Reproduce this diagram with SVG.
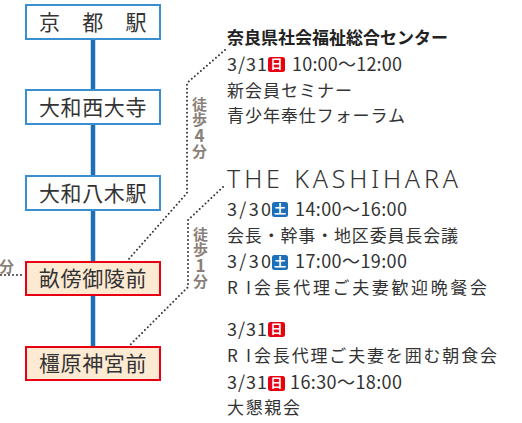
<svg xmlns="http://www.w3.org/2000/svg" width="522" height="423" viewBox="0 0 522 423">
<style>
.bg{fill:#fff}
.line{stroke:#1e6fb5;stroke-width:4.5;fill:none}
.bbox{fill:#fff;stroke:#3a8fd0;stroke-width:2}
.rbox{fill:#fdead3;stroke:#e60012;stroke-width:2}
.st{font-family:"Noto Sans CJK JP","Noto Sans",sans-serif;font-size:21px;fill:#333;text-anchor:middle;letter-spacing:0.6px}
.dot{fill:none;stroke:#333;stroke-width:2;stroke-linecap:round;stroke-dasharray:0 4}
.walk{font-family:"Noto Sans CJK JP","Noto Sans",sans-serif;font-size:15px;font-weight:bold;fill:#8b7f79}
.v{writing-mode:vertical-rl;text-orientation:upright;letter-spacing:0px}
.num{font-size:17px}
.t{font-family:"Noto Sans CJK JP","Noto Sans",sans-serif;font-size:17px;fill:#333}
.d{font-size:18px}
.tb{font-weight:bold;fill:#222}
.en{font-family:"Noto Sans","Liberation Sans",sans-serif;font-size:25px;font-weight:300;fill:#333}
.sun{fill:#e60012}
.sat{fill:#1d6fb8}
.bt{font-family:"Noto Sans CJK JP","Noto Sans",sans-serif;font-size:12px;font-weight:bold;fill:#fff;text-anchor:middle}
</style>
<rect class="bg" x="0" y="0" width="522" height="423"/>
<g id="connectors">
<line class="line" x1="93" y1="39" x2="93" y2="346"/>
<polyline class="dot" points="225,50 187,83 187,193 128,260"/>
<polyline class="dot" points="223,187 188,220 188,287 130,345"/>
<line class="dot" x1="1" y1="275" x2="24" y2="275"/>
</g>
<g id="kyoto">
<rect class="bbox" x="26" y="5" width="134" height="34"/>
<text class="st" x="93" y="30">京　都　駅</text>
</g>
<g id="saidaiji">
<rect class="bbox" x="26" y="90" width="134" height="34"/>
<text class="st" x="93" y="115">大和西大寺</text>
</g>
<g id="yagi">
<rect class="bbox" x="26" y="176" width="134" height="34"/>
<text class="st" x="93" y="201">大和八木駅</text>
</g>
<g id="unebi">
<rect class="rbox" x="26" y="262" width="134" height="33"/>
<text class="st" x="93" y="286">畝傍御陵前</text>
</g>
<g id="kashihara">
<rect class="rbox" x="26" y="347" width="134" height="33"/>
<text class="st" x="93" y="371">橿原神宮前</text>
</g>
<g id="walk4">
<text class="walk v" x="199.5" y="97">徒歩<tspan class="num">4</tspan>分</text>
</g>
<g id="walk1">
<text class="walk v" x="200.5" y="227">徒歩<tspan class="num">1</tspan>分</text>
</g>
<g id="walk-left">
<text class="walk" x="-1" y="272">分</text>
</g>
<g id="center">
<text class="t tb" x="227" y="44" textLength="221" lengthAdjust="spacing">奈良県社会福祉総合センター</text>
<text class="t d" x="227" y="71" textLength="40" lengthAdjust="spacing">3/31</text>
<rect class="sun" x="268" y="57" width="17" height="15" rx="2.5"/>
<text class="bt" x="276.5" y="69">日</text>
<text class="t d" x="292" y="71" textLength="110" lengthAdjust="spacing">10:00〜12:00</text>
<text class="t" x="227" y="97" textLength="125" lengthAdjust="spacing">新会員セミナー</text>
<text class="t" x="227" y="122" textLength="178" lengthAdjust="spacing">青少年奉仕フォーラム</text>
</g>
<g id="thekashihara">
<text class="en" x="227" y="188" textLength="231" lengthAdjust="spacing">THE KASHIHARA</text>
<text class="t d" x="227" y="216" textLength="44" lengthAdjust="spacing">3/30</text>
<rect class="sat" x="272" y="202" width="16" height="15" rx="2.5"/>
<text class="bt" x="280" y="214">土</text>
<text class="t d" x="295" y="216" textLength="112" lengthAdjust="spacing">14:00〜16:00</text>
<text class="t" x="227" y="242" textLength="231" lengthAdjust="spacing">会長・幹事・地区委員長会議</text>
<text class="t d" x="227" y="268" textLength="44" lengthAdjust="spacing">3/30</text>
<rect class="sat" x="272" y="255" width="16" height="15" rx="2.5"/>
<text class="bt" x="280" y="267">土</text>
<text class="t d" x="295" y="268" textLength="112" lengthAdjust="spacing">17:00〜19:00</text>
<text class="t" y="294"><tspan x="227">R</tspan><tspan x="246">I</tspan><tspan x="254" textLength="233" lengthAdjust="spacing">会長代理ご夫妻歓迎晩餐会</tspan></text>
<text class="t d" x="227" y="336" textLength="40" lengthAdjust="spacing">3/31</text>
<rect class="sun" x="268" y="322" width="17" height="15" rx="2.5"/>
<text class="bt" x="276.5" y="334">日</text>
<text class="t" y="362"><tspan x="227">R</tspan><tspan x="246">I</tspan><tspan x="254" textLength="243" lengthAdjust="spacing">会長代理ご夫妻を囲む朝食会</tspan></text>
<text class="t d" x="227" y="389" textLength="40" lengthAdjust="spacing">3/31</text>
<rect class="sun" x="268" y="376" width="17" height="15" rx="2.5"/>
<text class="bt" x="276.5" y="388">日</text>
<text class="t d" x="290" y="389" textLength="112" lengthAdjust="spacing">16:30〜18:00</text>
<text class="t" x="227" y="414" textLength="73" lengthAdjust="spacing">大懇親会</text>
</g>
</svg>
